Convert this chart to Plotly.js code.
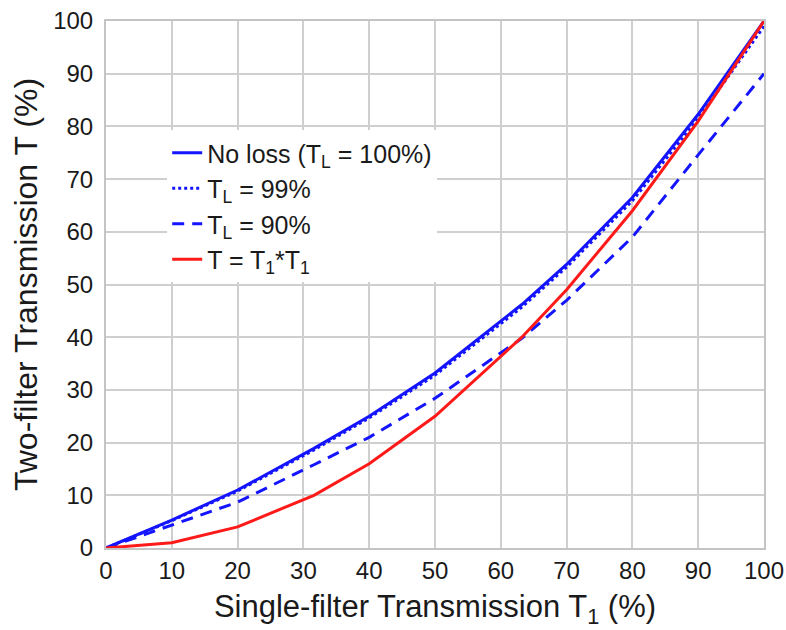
<!DOCTYPE html>
<html>
<head>
<meta charset="utf-8">
<script src="https://cdn.plot.ly/plotly-3.0.1.min.js"></script>
<style>html,body{margin:0;padding:0;background:#fff;}#chart{width:786px;height:630px;}</style>
</head>
<body>
<div id="chart"></div>
<script>
const T1 = [0, 10, 20, 31.6, 40, 50, 63.2, 70, 80, 90, 100];
const noLoss = [0, 5.3, 11.0, 18.9, 25.0, 33.2, 46.2, 53.8, 66.5, 82.3, 100];
const tl99 = [0, 5.2, 10.8, 18.6, 24.7, 32.8, 45.7, 53.3, 65.9, 81.5, 99.0];
const tl90 = [0, 4.3, 8.7, 15.8, 21.0, 28.4, 39.8, 47.0, 59.0, 74.6, 90.0];
const square = [0, 1, 4, 10, 16, 25, 40, 49, 64, 81, 100];
const xTicks = [0, 10, 20, 30, 40, 50, 60, 70, 80, 90, 100];
const yTicks = [0, 10, 20, 30, 40, 50, 60, 70, 80, 90, 100];

const FONT = '"Liberation Sans", Arial, sans-serif';
const BLUE = '#1414ff';
const RED = '#ff1a1a';
const TXT = '#1a1a1a';

const traces = [
  {x: T1, y: noLoss, mode: 'lines', name: 'No loss (T<sub>L</sub> = 100%)', line: {color: BLUE, width: 3}},
  {x: T1, y: tl99, mode: 'lines', name: 'T<sub>L</sub> = 99%', line: {color: BLUE, width: 3, dash: 'dot'}},
  {x: T1, y: tl90, mode: 'lines', name: 'T<sub>L</sub> = 90%', line: {color: BLUE, width: 3, dash: '12px,8px'}},
  {x: T1, y: square, mode: 'lines', name: 'T = T<sub>1</sub>*T<sub>1</sub>', line: {color: RED, width: 3}}
];

const layout = {
  width: 786, height: 630,
  margin: {l: 106, r: 22, t: 21, b: 82},
  paper_bgcolor: '#fff', plot_bgcolor: '#fff',
  font: {family: FONT, color: TXT, size: 24},
  showlegend: true,
  legend: {
    x: 0.093, y: 0.793, xanchor: 'left', yanchor: 'top',
    bgcolor: '#fff', borderwidth: 0,
    font: {family: FONT, size: 25, color: TXT},
    tracegroupgap: 0
  },
  xaxis: {
    range: [0, 100], tickvals: xTicks, ticktext: xTicks.map(String),
    showgrid: true, gridcolor: '#cfcfcf', gridwidth: 2,
    showline: true, linecolor: '#c4c4c4', linewidth: 2, mirror: true,
    zeroline: false, ticks: '', ticklen: 0, ticklabelstandoff: 0,
    tickfont: {family: FONT, size: 24, color: TXT},
    title: {text: 'Single-filter Transmission T<sub>1</sub> (%)', font: {family: FONT, size: 31, color: TXT}, standoff: 13}
  },
  yaxis: {
    range: [0, 100], tickvals: yTicks, ticktext: yTicks.map(String),
    showgrid: true, gridcolor: '#cfcfcf', gridwidth: 2,
    showline: true, linecolor: '#c4c4c4', linewidth: 2, mirror: true,
    zeroline: false, ticks: '', ticklen: 0, ticklabelstandoff: 6,
    tickfont: {family: FONT, size: 24, color: TXT},
    title: {text: 'Two-filter Transmission T (%)', font: {family: FONT, size: 32, color: TXT}, standoff: 6}
  }
};

Plotly.newPlot('chart', traces, layout, {displayModeBar: false, staticPlot: true});
</script>
</body>
</html>
